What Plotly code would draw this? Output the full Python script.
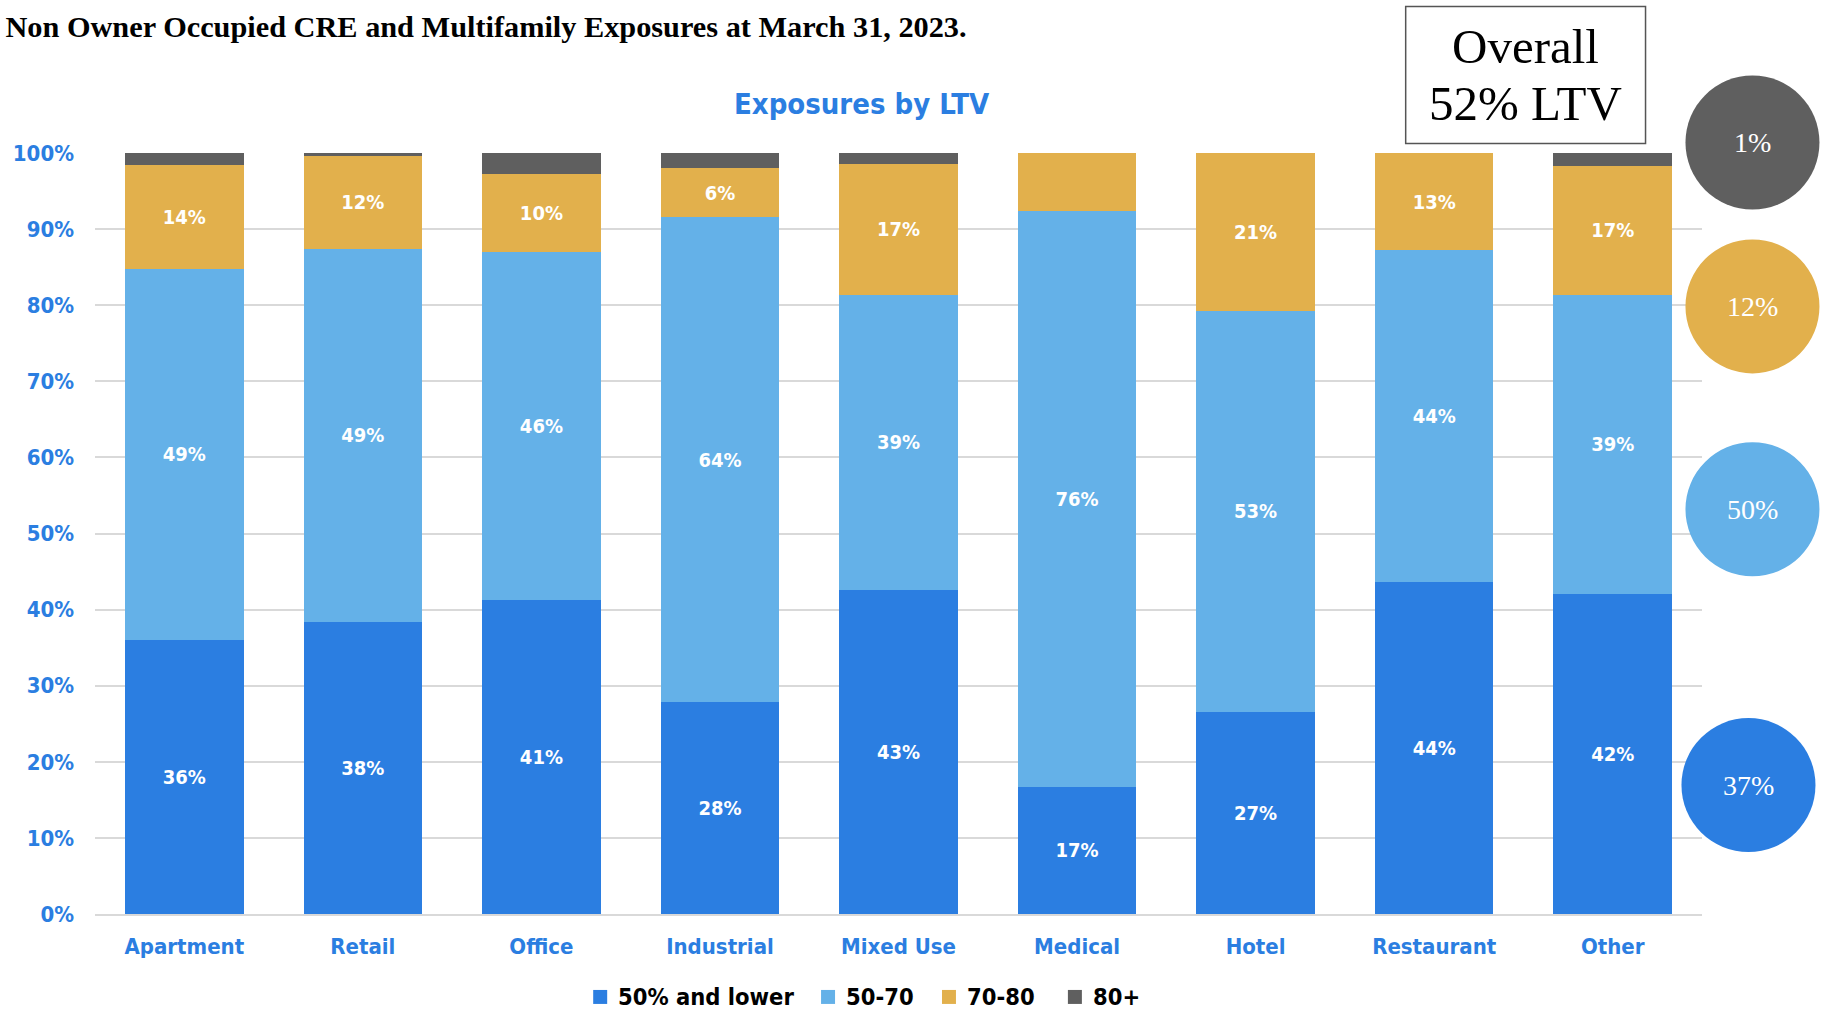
import plotly.graph_objects as go

categories = ["Apartment", "Retail", "Office", "Industrial", "Mixed Use",
              "Medical", "Hotel", "Restaurant", "Other"]

ltv_50_lower = [36.0, 38.4, 41.3, 27.8, 42.6, 16.7, 26.6, 43.6, 42.1]
ltv_50_70 = [48.8, 49.0, 45.7, 63.8, 38.8, 75.7, 52.6, 43.6, 39.3]
ltv_70_80 = [13.6, 12.2, 10.2, 6.4, 17.2, 7.6, 20.8, 12.8, 16.9]
ltv_80_plus = [1.6, 0.4, 2.8, 2.0, 1.4, 0.0, 0.0, 0.0, 1.7]

series_names = ["50% and lower", "50-70", "70-80", "80+"]
series_colors = ["#2B7EE1", "#64B1E8", "#E2B04C", "#5F5F5F"]

# segments left without a printed value
unlabeled = {("70-80", "Medical")}

overall_ltv = "52% LTV"
overall_mix = {"80+": 1, "70-80": 12, "50-70": 50, "50% and lower": 37}

SANS = "Liberation Sans Narrow, Arial Narrow, DejaVu Sans Condensed, sans-serif"
SERIF = "Liberation Serif, DejaVu Serif, serif"
BLUE_TEXT = "#2B7EE1"

W, H = 1824, 1011
ML, MR, MT, MB = 94.5, 121.5, 152.5, 97
plot_w = W - ML - MR
plot_h = H - MT - MB


def px_to_paper(x, y):
    return (x - ML) / plot_w, (H - MB - y) / plot_h


fig = go.Figure()
for name, vals, color in zip(series_names,
                             [ltv_50_lower, ltv_50_70, ltv_70_80, ltv_80_plus],
                             series_colors):
    if name == "80+":
        labels = [""] * len(vals)
    else:
        labels = ["" if (name, c) in unlabeled else f"{round(v)}%"
                  for c, v in zip(categories, vals)]
    fig.add_trace(go.Bar(
        name=name, x=categories, y=vals, marker_color=color,
        marker_line_width=0,
        text=labels, textposition="inside", insidetextanchor="middle",
        textangle=0, constraintext="none",
        textfont=dict(family=SANS, size=20, color="white", weight="bold"),
        hoverinfo="skip", showlegend=False,
    ))

fig.update_layout(
    barmode="stack",
    bargap=0.336,
    width=W, height=H,
    margin=dict(l=ML, r=MR, t=MT, b=MB, autoexpand=False),
    paper_bgcolor="white", plot_bgcolor="white",
    showlegend=False,
    title=dict(text="Non Owner Occupied CRE and Multifamily Exposures at March 31, 2023.",
               x=0.003, xanchor="left", xref="container",
               y=1 - 26 / H, yanchor="middle", yref="container",
               font=dict(family=SERIF, size=30.3, color="black", weight="bold")),
)

fig.update_yaxes(range=[0, 100], tick0=0, dtick=10, ticksuffix="%",
                 showgrid=True, gridcolor="#D9D9D9", gridwidth=1.5,
                 zeroline=False, showline=False, ticks="", automargin=False,
                 ticklabelstandoff=20,
                 tickfont=dict(family=SANS, size=22, color=BLUE_TEXT, weight="bold"))
fig.update_xaxes(showline=True, linecolor="#D9D9D9", linewidth=1.5,
                 ticks="", ticklabelstandoff=12, automargin=False,
                 tickfont=dict(family=SANS, size=22, color=BLUE_TEXT, weight="bold"))

sx, sy = px_to_paper(862, 103.5)
fig.add_annotation(text="Exposures by LTV", xref="paper", yref="paper",
                   x=sx, y=sy, xanchor="center", yanchor="middle",
                   showarrow=False,
                   font=dict(family=SANS, size=29, color=BLUE_TEXT, weight="bold"))

# legend row under the axis: colour square followed by the series name
legend_y = 997
legend_square_x = [593, 821, 942, 1068]
SQ = 14
for name, color, lx in zip(series_names, series_colors, legend_square_x):
    qx0, qy0 = px_to_paper(lx, legend_y + SQ / 2)
    qx1, qy1 = px_to_paper(lx + SQ, legend_y - SQ / 2)
    fig.add_shape(type="rect", xref="paper", yref="paper",
                  x0=qx0, x1=qx1, y0=qy0, y1=qy1,
                  fillcolor=color, line=dict(width=0))
    tx, ty = px_to_paper(lx + SQ + 9, legend_y)
    fig.add_annotation(text=name, xref="paper", yref="paper",
                       x=tx, y=ty, xanchor="left", yanchor="middle",
                       showarrow=False,
                       font=dict(family=SANS, size=23.5, color="black", weight="bold"))

# overall LTV box
bx0, by0 = px_to_paper(1406, 143)
bx1, by1 = px_to_paper(1646, 6)
fig.add_shape(type="rect", xref="paper", yref="paper",
              x0=bx0, x1=bx1, y0=by0, y1=by1,
              line=dict(color="#555555", width=1.5), fillcolor="white")
for line_text, cy in [("Overall", 46), (overall_ltv, 103)]:
    tx, ty = px_to_paper(1526, cy)
    fig.add_annotation(text=line_text, xref="paper", yref="paper",
                       x=tx, y=ty, xanchor="center", yanchor="middle",
                       showarrow=False,
                       font=dict(family=SERIF, size=49, color="black"))

# overall mix bubbles
bubble_centers = {"80+": (1753, 142), "70-80": (1753, 306),
                  "50-70": (1753, 509), "50% and lower": (1749, 785)}
R = 67
for name, color in zip(series_names, series_colors):
    ax, ay = px_to_paper(*bubble_centers[name])
    fig.add_shape(type="circle", xref="paper", yref="paper",
                  xsizemode="pixel", ysizemode="pixel", xanchor=ax, yanchor=ay,
                  x0=-R, x1=R, y0=-R, y1=R,
                  fillcolor=color, line=dict(width=0))
    fig.add_annotation(text=f"{overall_mix[name]}%", xref="paper", yref="paper",
                       x=ax, y=ay, xanchor="center", yanchor="middle",
                       showarrow=False,
                       font=dict(family=SERIF, size=28, color="white"))

fig.write_html("out.html")
